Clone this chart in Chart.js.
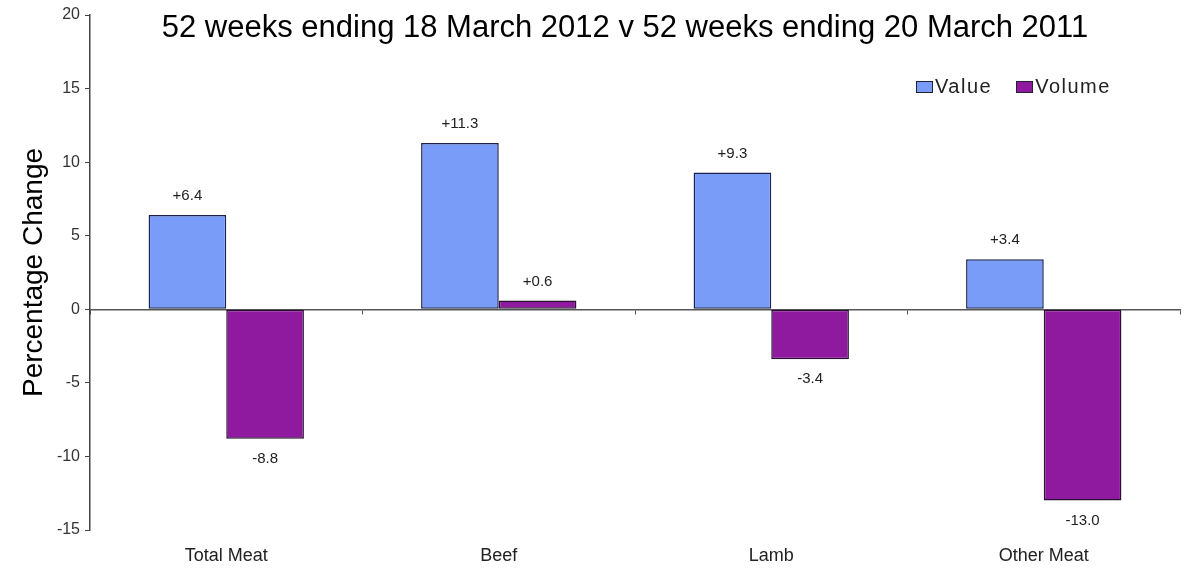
<!DOCTYPE html>
<html>
<head>
<meta charset="utf-8">
<script src="https://cdn.jsdelivr.net/npm/chart.js@4/dist/chart.umd.min.js"></script>
<style>
    body { margin: 0; background: #fff; }
    #wrap { position: relative; width: 1186px; height: 568px; font-family: "Liberation Sans", Arial, sans-serif; }
    #title {
        position: absolute; left: 80px; width: 1090px; top: 11px;
        text-align: center; font-size: 31px; line-height: 31px; color: #000;
    }
    #legend { position: absolute; left: 916px; top: 75px; font-size: 20px; letter-spacing: 1.5px; color: #222; display: flex; align-items: center; }
    #legend span.box { display: inline-block; width: 15px; height: 10px; border: 1px solid #223; margin-right: 2px; }
    #legend span.txt { margin-right: 24px; }
</style>
</head>
<body>
<div id="wrap">
    <canvas id="barChart" width="1186" height="568"></canvas>
    <div id="title">52 weeks ending 18 March 2012 v 52 weeks ending 20 March 2011</div>
    <div id="legend"></div>
</div>
<script>
const categories = ['Total Meat', 'Beef', 'Lamb', 'Other Meat'];
const valueChange = [6.4, 11.3, 9.3, 3.4];
const volumeChange = [-8.8, 0.6, -3.4, -13.0];
const seriesNames = ['Value', 'Volume'];
const yTicks = [-15, -10, -5, 0, 5, 10, 15, 20];

const colors = ['#789cf8', '#8f1a9f'];

// labels like +6.4 / -8.8 next to each bar end
const barLabels = {
    id: 'barLabels',
    afterDatasetsDraw(chart) {
        const ctx = chart.ctx;
        ctx.save();
        ctx.font = '15px "Liberation Sans", Arial, sans-serif';
        ctx.fillStyle = '#222';
        ctx.textAlign = 'center';
        ctx.textBaseline = 'middle';
        chart.data.datasets.forEach((ds, di) => {
            chart.getDatasetMeta(di).data.forEach((bar, i) => {
                const v = ds.data[i];
                const txt = (v > 0 ? '+' : '') + v.toFixed(1);
                const y = v >= 0 ? bar.y - 19 : bar.y + 20;
                ctx.fillText(txt, bar.x, y);
            });
        });
        ctx.restore();
    }
};

const ctx = document.getElementById('barChart').getContext('2d');
const chart = new Chart(ctx, {
    type: 'bar',
    data: {
        labels: categories,
        datasets: [
            {
                label: seriesNames[0],
                data: valueChange,
                backgroundColor: colors[0],
                borderColor: '#1c2150',
                borderWidth: 1.5,
                borderSkipped: false
            },
            {
                label: seriesNames[1],
                data: volumeChange,
                backgroundColor: colors[1],
                borderColor: '#2a1030',
                borderWidth: 1.5,
                borderSkipped: false
            }
        ]
    },
    options: {
        responsive: false,
        animation: false,
        categoryPercentage: 0.57,
        barPercentage: 1.0,
        layout: { padding: { top: 15, right: 6, left: 0, bottom: 0 } },
        plugins: {
            legend: { display: false },
            tooltip: { enabled: false }
        },
        scales: {
            x: {
                position: 'bottom',
                border: { display: false },
                grid: { display: false },
                ticks: {
                    color: '#222',
                    padding: 7,
                    font: { family: '"Liberation Sans", Arial, sans-serif', size: 18 }
                },
                afterFit: scale => { scale.height = 38; }
            },
            x2: {
                type: 'category',
                labels: categories,
                position: { y: 0 },
                offset: true,
                border: { display: true, color: '#555', width: 1.5 },
                grid: { offset: true, drawOnChartArea: false, drawTicks: true, tickLength: 4, color: '#555' },
                ticks: { display: false }
            },
            y: {
                min: -15,
                max: 20,
                afterBuildTicks: scale => { scale.ticks = yTicks.map(v => ({ value: v })); },
                border: { display: true, color: '#444', width: 1.5 },
                grid: { drawOnChartArea: false, drawTicks: true, tickLength: 5, color: '#444' },
                ticks: {
                    color: '#333',
                    padding: 5,
                    font: { family: '"Liberation Sans", Arial, sans-serif', size: 16 }
                },
                title: {
                    display: true,
                    text: 'Percentage Change',
                    color: '#000',
                    padding: { top: 17, bottom: 0 },
                    font: { family: '"Liberation Sans", Arial, sans-serif', size: 28 }
                },
                afterFit: scale => { scale.width = 90; }
            }
        }
    },
    plugins: [barLabels]
});

// small legend in the top right corner
const legend = document.getElementById('legend');
seriesNames.forEach((name, i) => {
    const box = document.createElement('span');
    box.className = 'box';
    box.style.background = colors[i];
    const txt = document.createElement('span');
    txt.className = 'txt';
    txt.textContent = name;
    legend.appendChild(box);
    legend.appendChild(txt);
});
</script>
</body>
</html>
